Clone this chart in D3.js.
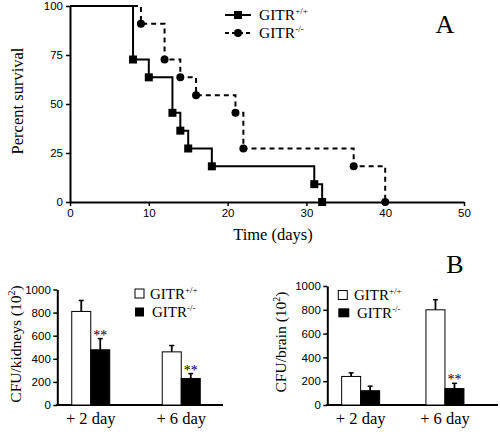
<!DOCTYPE html>
<html><head><meta charset="utf-8">
<script src="https://cdn.jsdelivr.net/npm/d3@7"></script>
<style>
body{margin:0;background:#fff;}
svg{display:block;}
</style></head>
<body>
<svg id="c" width="500" height="434"></svg>
<script>
// ---- Panel A data (Kaplan-Meier) ----
const wtTimes = [0, 8, 10, 13, 14, 15, 18, 31, 32];
const wtSurv  = [100, 72.7, 63.6, 45.5, 36.4, 27.3, 18.2, 9.1, 0];
const koTimes = [0, 9, 12, 14, 16, 21, 22, 36, 40];
const koSurv  = [100, 90.9, 72.7, 63.6, 54.5, 45.5, 27.3, 18.2, 0];
const timeTicks = [0, 10, 20, 30, 40, 50];
const survTicks = [0, 25, 50, 75, 100];

// ---- Panel B data ----
const daysB = ["+ 2 day", "+ 6 day"];
const groupsB = ["wt", "ko"];
const kidneyWT = [810, 460];
const kidneyWTErr = [95, 55];
const kidneyKO = [478, 230];
const kidneyKOErr = [97, 42];
const kidneySig = ["**", "**"];
const brainWT = [240, 800];
const brainWTErr = [30, 85];
const brainKO = [120, 138];
const brainKOErr = [38, 44];
const brainSig = ["", "**"];
const cfuTicks = [0, 200, 400, 600, 800, 1000];

const SERIF = '"Liberation Serif","Times New Roman",serif';
const SANS = '"Liberation Sans",Arial,sans-serif';

const svg = d3.select("#c");
svg.append("rect").attr("width",500).attr("height",434).attr("fill","#fff");

function styleAxis(a){
  a.select(".domain").attr("stroke","#000").attr("stroke-width",2);
  a.selectAll(".tick line").attr("stroke","#000").attr("stroke-width",1.5);
  a.selectAll(".tick text").attr("font-family",SANS).attr("font-size",11.5).attr("fill","#000");
}
function serifText(g, x, y, fs, txt){
  return g.append("text").attr("x",x).attr("y",y).attr("font-family",SERIF)
    .attr("font-size",fs).attr("fill","#000").text(txt);
}

// ================= Panel A =================
const xA = d3.scaleLinear().domain([0,50]).range([70,464]);
const yA = d3.scaleLinear().domain([0,100]).range([202,6]);

const gA = svg.append("g");
const axA = gA.append("g").attr("transform","translate(0,202)")
  .call(d3.axisBottom(xA).tickValues(timeTicks).tickSize(4).tickSizeOuter(0).tickPadding(3));
const ayA = gA.append("g").attr("transform","translate(70,0)")
  .call(d3.axisLeft(yA).tickValues(survTicks).tickSize(4).tickSizeOuter(0).tickPadding(3));
styleAxis(axA); styleAxis(ayA);

const stepLine = d3.line().x(d=>xA(d[0])).y(d=>yA(d[1])).curve(d3.curveStepAfter);
const wtPts = wtTimes.map((t,i)=>[t, wtSurv[i]]);
const koPts = koTimes.map((t,i)=>[t, koSurv[i]]);

gA.append("path").attr("d", stepLine(koPts)).attr("fill","none")
  .attr("stroke","#000").attr("stroke-width",2).attr("stroke-dasharray","5,4");
gA.append("path").attr("d", stepLine(wtPts)).attr("fill","none")
  .attr("stroke","#000").attr("stroke-width",2);

gA.selectAll("circle.ko").data(koPts.slice(1)).join("circle")
  .attr("cx",d=>xA(d[0])).attr("cy",d=>yA(d[1])).attr("r",4).attr("fill","#000");
gA.selectAll("rect.wt").data(wtPts.slice(1)).join("rect")
  .attr("x",d=>xA(d[0])-4).attr("y",d=>yA(d[1])-4).attr("width",8).attr("height",8).attr("fill","#000");

serifText(gA, 273, 240, 16.5, "Time (days)").attr("text-anchor","middle");
serifText(gA, 0, 0, 16.5, "Percent survival").attr("text-anchor","middle")
  .attr("transform","translate(23,101) rotate(-90)");
serifText(gA, 445, 33, 26, "A").attr("text-anchor","middle");

function supLabel(g, x, y, main, sup, fs, sfs, dy){
  const t = serifText(g, x, y, fs, null);
  t.append("tspan").text(main);
  t.append("tspan").attr("dy",-dy).attr("font-size",sfs).text(sup);
  return t;
}
gA.append("line").attr("x1",225).attr("x2",251).attr("y1",15).attr("y2",15)
  .attr("stroke","#000").attr("stroke-width",2);
gA.append("rect").attr("x",234).attr("y",11).attr("width",8).attr("height",8).attr("fill","#000");
supLabel(gA, 259, 20, "GITR", "+/+", 15.5, 9, 6);
gA.append("line").attr("x1",225).attr("x2",251).attr("y1",33).attr("y2",33)
  .attr("stroke","#000").attr("stroke-width",2).attr("stroke-dasharray","4,3");
gA.append("circle").attr("cx",238).attr("cy",33).attr("r",4).attr("fill","#000");
supLabel(gA, 259, 38, "GITR", "-/-", 15.5, 9, 6);

// ================= Panel B =================
function barPanel(cfg){
  const g = svg.append("g");
  const y = d3.scaleLinear().domain([0,1000]).range([405, cfg.yTop]);
  const x0 = d3.scaleBand().domain(daysB).range(cfg.bandRange);
  const bw = x0.bandwidth();
  const x1 = d3.scaleBand().domain(groupsB).range([bw/2 - 19, bw/2 + 19]);

  const ay = g.append("g").attr("transform",`translate(${cfg.axisX},0)`)
    .call(d3.axisLeft(y).tickValues(cfuTicks).tickFormat(d3.format("d"))
      .tickSize(4).tickSizeOuter(0).tickPadding(2.5));
  styleAxis(ay);

  const ax = g.append("g").attr("transform","translate(0,405)")
    .call(d3.axisBottom(x0).tickSize(0).tickPadding(7.5));
  ax.select(".domain").remove();
  ax.selectAll(".tick text").attr("font-family",SERIF).attr("font-size",16.5).attr("fill","#000");
  g.append("line").attr("x1",cfg.axisX-1).attr("x2",cfg.axisEnd).attr("y1",405).attr("y2",405)
    .attr("stroke","#000").attr("stroke-width",2);

  const rows = [];
  daysB.forEach((d,i)=>{
    rows.push({day:d, grp:"wt", v:cfg.wt[i], e:cfg.wtErr[i], sig:""});
    rows.push({day:d, grp:"ko", v:cfg.ko[i], e:cfg.koErr[i], sig:cfg.sig[i]});
  });
  const bx = r => x0(r.day) + x1(r.grp);
  const w = x1.bandwidth();
  g.selectAll("line.err").data(rows).join("line")
    .attr("x1",r=>bx(r)+w/2).attr("x2",r=>bx(r)+w/2)
    .attr("y1",r=>y(r.v)).attr("y2",r=>y(r.v+r.e))
    .attr("stroke","#000").attr("stroke-width",1.8);
  g.selectAll("line.cap").data(rows).join("line")
    .attr("x1",r=>bx(r)+w/2-2.5).attr("x2",r=>bx(r)+w/2+2.5)
    .attr("y1",r=>y(r.v+r.e)).attr("y2",r=>y(r.v+r.e))
    .attr("stroke","#000").attr("stroke-width",1.5);
  g.selectAll("rect.bar").data(rows).join("rect")
    .attr("x",r=>bx(r)).attr("y",r=>y(r.v)).attr("width",w).attr("height",r=>405-y(r.v))
    .attr("fill",r=>r.grp==="wt"?"#fff":"#000").attr("stroke","#000").attr("stroke-width",1);
  g.selectAll("text.sig").data(rows.filter(r=>r.sig)).join("text")
    .attr("font-family",SERIF).attr("x",r=>bx(r)+w/2).attr("y",r=>y(r.v+r.e)+1)
    .attr("text-anchor","middle").attr("font-size",14).text(r=>r.sig);

  const t = serifText(g, 0, 0, 15.5, null)
    .attr("transform",`translate(${cfg.titleX},${cfg.titleY}) rotate(-90)`)
    .attr("text-anchor","middle");
  t.append("tspan").text(cfg.title + " (10");
  t.append("tspan").attr("dy",-6).attr("font-size",10).text("2");
  t.append("tspan").attr("dy",6).text(")");

  const L = cfg.legend;
  g.append("rect").attr("x",L.x).attr("y",L.y1).attr("width",9).attr("height",9)
    .attr("fill","#fff").attr("stroke","#000").attr("stroke-width",1);
  supLabel(g, L.tx1, L.y1+9.5, "GITR", "+/+", 15, 9, 6);
  g.append("rect").attr("x",L.x).attr("y",L.y2).attr("width",L.bw).attr("height",9)
    .attr("fill","#000");
  supLabel(g, L.tx2, L.y2+9.5, "GITR", "-/-", 15, 9, 6);
  return g;
}

barPanel({yTop:289.5, axisX:57.3, axisEnd:223, bandRange:[45.5,226.5],
  wt:kidneyWT, wtErr:kidneyWTErr, ko:kidneyKO, koErr:kidneyKOErr, sig:kidneySig,
  title:"CFU/kidneys", titleX:21, titleY:344,
  legend:{x:135, y1:289, y2:307.5, bw:9, tx1:150, tx2:152}});
barPanel({yTop:286, axisX:327.3, axisEnd:498, bandRange:[318.5,487.1],
  wt:brainWT, wtErr:brainWTErr, ko:brainKO, koErr:brainKOErr, sig:brainSig,
  title:"CFU/brain", titleX:286, titleY:342,
  legend:{x:338.3, y1:290.5, y2:308.3, bw:11, tx1:354, tx2:357}});

serifText(svg, 455, 273, 26, "B").attr("text-anchor","middle");
</script>
</body></html>
